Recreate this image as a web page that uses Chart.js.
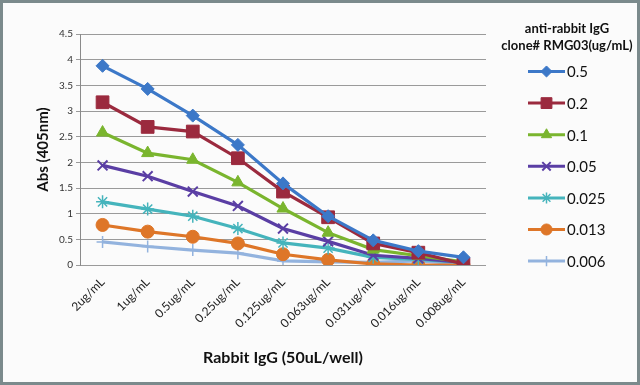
<!DOCTYPE html>
<html>
<head>
<meta charset="utf-8">
<script src="https://cdn.jsdelivr.net/npm/chart.js@4/dist/chart.umd.min.js"></script>
<style>
  html, body { margin: 0; padding: 0; background: #fbfbfb; }
  #wrap { width: 640px; height: 385px; position: relative; }
</style>
</head>
<body>
<div id="wrap"><canvas id="c" width="640" height="385"></canvas></div>
<script>
// x categories (Rabbit IgG per well)
const concLabels = ['2ug/mL', '1ug/mL', '0.5ug/mL', '0.25ug/mL', '0.125ug/mL', '0.063ug/mL', '0.031ug/mL', '0.016ug/mL', '0.008ug/mL'];
const yTicks = [0, 0.5, 1, 1.5, 2, 2.5, 3, 3.5, 4, 4.5];

// one series per anti-rabbit IgG concentration
const seriesNames = ['0.5', '0.2', '0.1', '0.05', '0.025', '0.013', '0.006'];
const abs05   = [3.88, 3.43, 2.91, 2.34, 1.59, 0.95, 0.48, 0.27, 0.15];
const abs02   = [3.17, 2.69, 2.60, 2.08, 1.43, 0.93, 0.42, 0.24, 0.02];
const abs01   = [2.58, 2.18, 2.05, 1.61, 1.10, 0.63, 0.30, 0.18, 0.06];
const abs005  = [1.94, 1.73, 1.43, 1.15, 0.71, 0.46, 0.19, 0.13, 0.05];
const abs0025 = [1.23, 1.09, 0.95, 0.71, 0.43, 0.33, 0.15, 0.11, 0.05];
const abs0013 = [0.78, 0.65, 0.55, 0.42, 0.21, 0.10, 0.02, 0.00, 0.00];
const abs0006 = [0.45, 0.36, 0.29, 0.23, 0.08, 0.06, 0.05, 0.08, 0.02];

const FONT = 'Lato, "Open Sans", sans-serif';

const styles = [
  { color: '#3c78c8', point: 'rectRot',  r: 6.5, bw: 1 },
  { color: '#9b2a3e', point: 'rect',     r: 9,   bw: 1 },
  { color: '#7ab52e', point: 'triangle', r: 7,   bw: 1 },
  { color: '#5a3ea4', point: 'crossRot', r: 7,   bw: 2 },
  { color: '#45b4bc', point: 'star',     r: 6.5, bw: 1.5 },
  { color: '#de7628', point: 'circle',   r: 6.5, bw: 1 },
  { color: '#93b3de', point: 'cross',    r: 6,   bw: 1.5 }
];
const allData = [abs05, abs02, abs01, abs005, abs0025, abs0013, abs0006];

const datasets = allData.map((d, i) => ({
  label: seriesNames[i],
  data: d,
  borderColor: styles[i].color,
  backgroundColor: styles[i].color,
  borderWidth: 3.2,
  pointStyle: styles[i].point,
  pointRadius: styles[i].r,
  pointBorderWidth: styles[i].bw,
  pointBackgroundColor: styles[i].color,
  pointBorderColor: styles[i].color,
  tension: 0
}));

// background + frame
const framePlugin = {
  id: 'frame',
  beforeDraw(chart) {
    const ctx = chart.ctx;
    ctx.save();
    ctx.fillStyle = '#fbfbfb';
    ctx.fillRect(0, 0, chart.width, chart.height);
    ctx.restore();
  },
  afterDraw(chart) {
    const ctx = chart.ctx;
    ctx.save();
    ctx.strokeStyle = '#7b8a8c';
    ctx.lineWidth = 3;
    ctx.strokeRect(1.5, 1.5, chart.width - 3, chart.height - 3);
    ctx.restore();
  }
};

// legend on the right, drawn from the datasets
const sideLegend = {
  id: 'sideLegend',
  afterDraw(chart) {
    const ctx = chart.ctx;
    ctx.save();
    ctx.fillStyle = '#111';
    ctx.textAlign = 'center';
    ctx.textBaseline = 'middle';
    ctx.font = 'bold 13px ' + FONT;
    ctx.fillText('anti-rabbit IgG', 567, 29);
    ctx.fillText('clone# RMG03(ug/mL)', 567, 46);
    chart.data.datasets.forEach((ds, i) => {
      const y = 71.5 + i * 31.6;
      ctx.strokeStyle = ds.borderColor;
      ctx.lineWidth = 3;
      ctx.beginPath();
      ctx.moveTo(528, y);
      ctx.lineTo(565, y);
      ctx.stroke();
      ctx.fillStyle = ds.borderColor;
      ctx.strokeStyle = ds.borderColor;
      ctx.lineWidth = ds.pointBorderWidth;
      Chart.helpers.drawPoint(ctx, { pointStyle: ds.pointStyle, radius: ds.pointRadius * 0.85, rotation: 0, borderWidth: ds.pointBorderWidth }, 546.5, y);
      ctx.fillStyle = '#111';
      ctx.textAlign = 'left';
      ctx.font = '15px ' + FONT;
      ctx.fillText(ds.label, 567, y + 1);
    });
    ctx.restore();
  }
};

new Chart(document.getElementById('c'), {
  type: 'line',
  data: { labels: concLabels, datasets },
  options: {
    responsive: false,
    animation: false,
    layout: { padding: { top: 34, right: 154, bottom: 0, left: 0 } },
    plugins: { legend: { display: false }, tooltip: { enabled: false } },
    scales: {
      x: {
        offset: true,
        afterFit(scale) { scale.height = 120; },
        grid: { display: false },
        border: { display: false },
        ticks: {
          maxRotation: 45, minRotation: 45, autoSkip: false,
          color: '#222', font: { family: FONT, size: 12 }, padding: 2
        },
        title: {
          display: true, text: 'Rabbit IgG (50uL/well)',
          color: '#111', font: { family: FONT, size: 16, weight: 'bold' },
          padding: { top: 0, bottom: 18 }
        }
      },
      y: {
        min: 0, max: 4.5,
        afterFit(scale) { scale.width = 80; },
        afterBuildTicks(scale) { scale.ticks = yTicks.map(v => ({ value: v })); },
        grid: { color: '#9a9a9a', lineWidth: 1, tickLength: 4, drawTicks: true },
        border: { display: true, color: '#8a8a8a', width: 1 },
        ticks: {
          color: '#333', font: { family: FONT, size: 10 }, padding: 3,
          callback: v => String(v)
        },
        title: {
          display: true, text: 'Abs (405nm)',
          color: '#111', font: { family: FONT, size: 15, weight: 'bold' },
          padding: { top: 34, bottom: 0 }
        }
      }
    }
  },
  plugins: [framePlugin, sideLegend]
});
</script>
</body>
</html>
